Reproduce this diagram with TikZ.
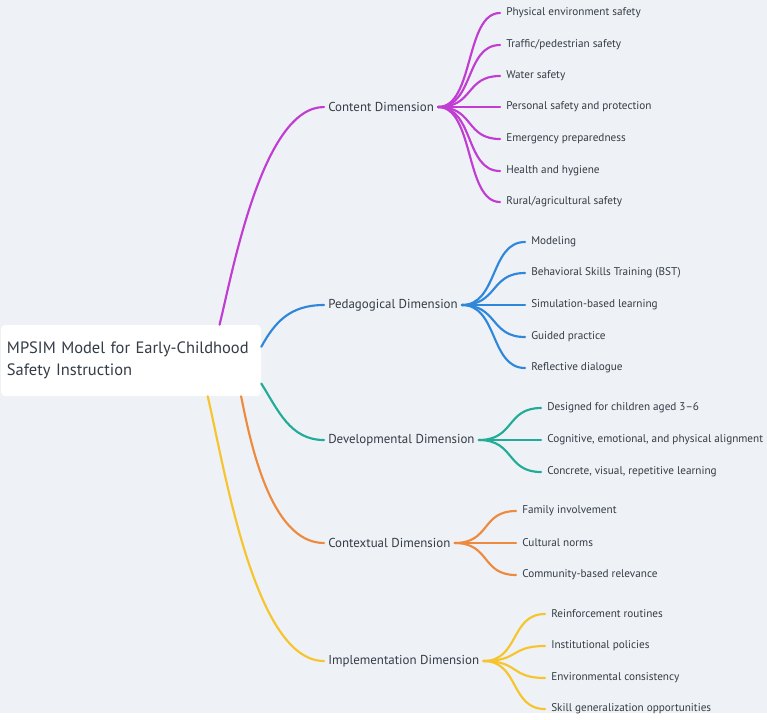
\documentclass[tikz,border=0pt]{standalone}
\usepackage{fontspec}
\setmainfont{PT Sans}
\usetikzlibrary{positioning}
\definecolor{MMInk}{HTML}{343C46}
\definecolor{MMPaper}{HTML}{EEF1F5}
\definecolor{MMMagenta}{HTML}{C03CD2}
\definecolor{MMBlue}{HTML}{2F87DB}
\definecolor{MMTeal}{HTML}{21AC97}
\definecolor{MMOrange}{HTML}{EE8A3E}
\definecolor{MMYellow}{HTML}{F6C42C}

\begin{document}
\begin{tikzpicture}[
    x=0.75pt,y=-0.75pt,
    root/.style={fill=white,rounded corners=3pt,text=MMInk,font=\fontsize{12.35}{16.5}\selectfont,
      minimum width=195pt,minimum height=53.25pt,text width=186pt,align=left,inner xsep=4.5pt},
    dim/.style={anchor=west,text=MMInk,font=\fontsize{9.7}{11}\selectfont,inner xsep=3pt,inner ysep=2pt},
    leaf/.style={anchor=west,text=MMInk,font=\fontsize{8.4}{10}\selectfont,inner xsep=4.5pt,inner ysep=2pt},
    link/.style={line width=1.6pt,line cap=round}
  ]
  \fill[MMPaper] (0,0) rectangle (767,713);
  \fill[white] (0,713) rectangle (767,719);
  \useasboundingbox (0,0) rectangle (767,719);

  % root and the five dimensions
  \node[root] (root) at (131,360.5) {MPSIM Model for Early-Childhood\\Safety Instruction};
  \node[dim] (content) at (324,107) {Content Dimension};
  \node[dim] (pedag) at (324,305) {Pedagogical Dimension};
  \node[dim] (devel) at (324,440) {Developmental Dimension};
  \node[dim] (contx) at (324,543) {Contextual Dimension};
  \node[dim] (implm) at (324,661) {Implementation Dimension};

  \draw[link,MMMagenta] (root.22.7) .. controls (232,275) and (262,107) .. (content.west);
  \draw[link,MMBlue] (root.6.7) .. controls (275,322) and (290,305) .. (pedag.west);
  \draw[link,MMTeal] (root.-10.6) .. controls (278,410) and (290,440) .. (devel.west);
  \draw[link,MMOrange] (root.-18.8) .. controls (250,440) and (270,543) .. (contx.west);
  \draw[link,MMYellow] (root.-25.6) .. controls (225,470) and (255,661) .. (implm.west);

  % content leaves
  \node[leaf] (physical) at (500,13) {Physical environment safety};
  \node[leaf] (traffic) at (500,45) {Traffic/pedestrian safety};
  \node[leaf] (water) at (500,76) {Water safety};
  \node[leaf] (personal) at (500,107) {Personal safety and protection};
  \node[leaf] (emergency) at (500,139) {Emergency preparedness};
  \node[leaf] (health) at (500,171) {Health and hygiene};
  \node[leaf] (rural) at (500,202) {Rural/agricultural safety};
  \draw[link,MMMagenta] (content.east) .. controls +(36,0) and +(-35,0) .. (physical.west);
  \draw[link,MMMagenta] (content.east) .. controls +(36,0) and +(-35,0) .. (traffic.west);
  \draw[link,MMMagenta] (content.east) .. controls +(36,0) and +(-35,0) .. (water.west);
  \draw[link,MMMagenta] (content.east) .. controls +(36,0) and +(-35,0) .. (personal.west);
  \draw[link,MMMagenta] (content.east) .. controls +(36,0) and +(-35,0) .. (emergency.west);
  \draw[link,MMMagenta] (content.east) .. controls +(36,0) and +(-35,0) .. (health.west);
  \draw[link,MMMagenta] (content.east) .. controls +(36,0) and +(-35,0) .. (rural.west);

  % pedagogical leaves
  \node[leaf] (modeling) at (525,242) {Modeling};
  \node[leaf] (bst) at (525,273) {Behavioral Skills Training (BST)};
  \node[leaf] (simulation) at (525,305) {Simulation-based learning};
  \node[leaf] (guided) at (525,337) {Guided practice};
  \node[leaf] (reflective) at (525,368) {Reflective dialogue};
  \draw[link,MMBlue] (pedag.east) .. controls +(36,0) and +(-35,0) .. (modeling.west);
  \draw[link,MMBlue] (pedag.east) .. controls +(36,0) and +(-35,0) .. (bst.west);
  \draw[link,MMBlue] (pedag.east) .. controls +(36,0) and +(-35,0) .. (simulation.west);
  \draw[link,MMBlue] (pedag.east) .. controls +(36,0) and +(-35,0) .. (guided.west);
  \draw[link,MMBlue] (pedag.east) .. controls +(36,0) and +(-35,0) .. (reflective.west);

  % developmental leaves
  \node[leaf] (aged) at (541,408) {Designed for children aged 3--6};
  \node[leaf] (alignment) at (541,440) {Cognitive, emotional, and physical alignment};
  \node[leaf] (concrete) at (541,472) {Concrete, visual, repetitive learning};
  \draw[link,MMTeal] (devel.east) .. controls +(36,0) and +(-35,0) .. (aged.west);
  \draw[link,MMTeal] (devel.east) .. controls +(36,0) and +(-35,0) .. (alignment.west);
  \draw[link,MMTeal] (devel.east) .. controls +(36,0) and +(-35,0) .. (concrete.west);

  % contextual leaves
  \node[leaf] (family) at (516,511) {Family involvement};
  \node[leaf] (cultural) at (516,543) {Cultural norms};
  \node[leaf] (community) at (516,575) {Community-based relevance};
  \draw[link,MMOrange] (contx.east) .. controls +(36,0) and +(-35,0) .. (family.west);
  \draw[link,MMOrange] (contx.east) .. controls +(36,0) and +(-35,0) .. (cultural.west);
  \draw[link,MMOrange] (contx.east) .. controls +(36,0) and +(-35,0) .. (community.west);

  % implementation leaves
  \node[leaf] (routines) at (545,614) {Reinforcement routines};
  \node[leaf] (policies) at (545,646) {Institutional policies};
  \node[leaf] (consistency) at (545,678) {Environmental consistency};
  \node[leaf] (generalize) at (545,709) {Skill generalization opportunities};
  \draw[link,MMYellow] (implm.east) .. controls +(36,0) and +(-35,0) .. (routines.west);
  \draw[link,MMYellow] (implm.east) .. controls +(36,0) and +(-35,0) .. (policies.west);
  \draw[link,MMYellow] (implm.east) .. controls +(36,0) and +(-35,0) .. (consistency.west);
  \draw[link,MMYellow] (implm.east) .. controls +(36,0) and +(-35,0) .. (generalize.west);
\end{tikzpicture}
\end{document}
